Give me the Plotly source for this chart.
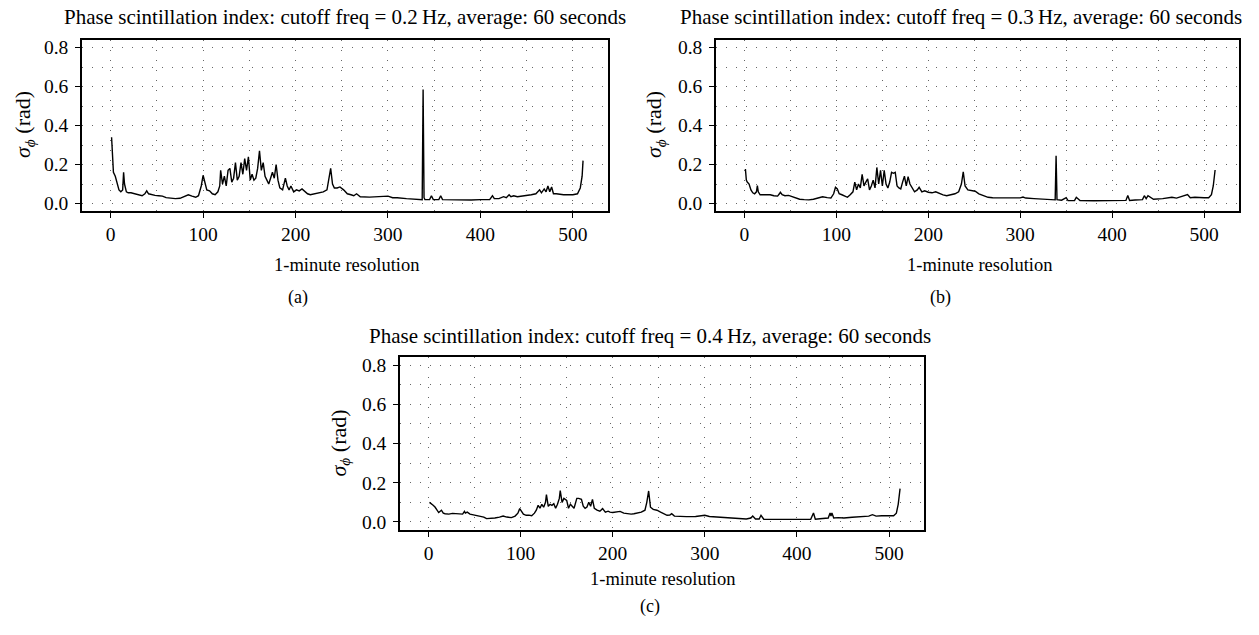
import plotly.graph_objects as go

# ---------------- data ----------------
MIN_A = [1, 2, 3, 5, 7, 9, 11, 13, 14, 15,
         17, 19, 22, 26, 30, 34, 37, 39, 41, 44,
         48, 52, 56, 60, 65, 70, 75, 80, 84, 88,
         92, 95, 98, 100, 102, 104, 107, 110, 113, 116,
         118, 119, 121, 123, 125, 127, 129, 131, 133, 135,
         137, 139, 141, 143, 145, 147, 149, 151, 153, 155,
         157, 159, 161, 163, 165, 167, 169, 171, 173, 175,
         177, 179, 181, 183, 186, 189, 191, 193, 195, 198,
         201, 204, 207, 210, 213, 216, 220, 225, 230, 234,
         236, 238, 240, 242, 245, 248, 252, 256, 260, 263,
         266, 270, 280, 290, 300, 305, 310, 320, 330, 336,
         337, 338, 339, 340, 345, 347, 349, 355, 357, 359,
         370, 390, 400, 410, 413, 415, 420, 423, 425, 428,
         431, 433, 436, 440, 450, 455, 460, 464, 466, 469,
         471, 473, 475, 477, 479, 482, 490, 500, 505, 508,
         510, 511]
SIGMA_A = [0.34, 0.25, 0.16, 0.14, 0.10, 0.07, 0.06, 0.07, 0.16, 0.10,
           0.06, 0.055, 0.055, 0.05, 0.045, 0.04, 0.05, 0.065, 0.05, 0.045,
           0.042, 0.04, 0.038, 0.03, 0.028, 0.025, 0.027, 0.035, 0.045, 0.038,
           0.032, 0.04, 0.09, 0.145, 0.10, 0.07, 0.065, 0.05, 0.045, 0.06,
           0.09, 0.17, 0.10, 0.14, 0.09, 0.17, 0.18, 0.11, 0.13, 0.21,
           0.12, 0.14, 0.21, 0.15, 0.23, 0.17, 0.24, 0.12, 0.15, 0.12,
           0.13, 0.18, 0.27, 0.17, 0.21, 0.14, 0.12, 0.10, 0.13, 0.16,
           0.13, 0.20, 0.12, 0.08, 0.07, 0.13, 0.09, 0.07, 0.09, 0.06,
           0.07, 0.065, 0.075, 0.06, 0.05, 0.045, 0.05, 0.055, 0.06, 0.07,
           0.12, 0.18, 0.10, 0.08, 0.08, 0.085, 0.07, 0.05, 0.045, 0.04,
           0.05, 0.035, 0.033, 0.035, 0.038, 0.03, 0.03, 0.025, 0.022, 0.02,
           0.02, 0.585, 0.03, 0.02, 0.02, 0.04, 0.02, 0.02, 0.04, 0.02,
           0.018, 0.018, 0.02, 0.02, 0.04, 0.025, 0.025, 0.03, 0.035, 0.03,
           0.045, 0.035, 0.04, 0.035, 0.04, 0.045, 0.05, 0.07, 0.055, 0.075,
           0.06, 0.09, 0.06, 0.085, 0.05, 0.05, 0.045, 0.045, 0.05, 0.08,
           0.14, 0.22]

MIN_B = [1, 2, 3, 5, 7, 9, 11, 13, 14, 15,
         17, 20, 24, 28, 32, 36, 38, 39, 41, 44,
         48, 52, 56, 60, 65, 70, 75, 80, 85, 90,
         94, 97, 99, 101, 103, 106, 109, 112, 115, 118,
         120, 122, 124, 126, 128, 130, 132, 134, 136, 138,
         140, 142, 144, 146, 148, 150, 152, 154, 156, 158,
         160, 162, 164, 166, 168, 170, 172, 174, 176, 178,
         180, 182, 185, 188, 190, 193, 196, 200, 204, 208,
         212, 216, 220, 225, 229, 233, 236, 238, 240, 243,
         247, 251, 255, 260, 265, 270, 280, 290, 300, 303,
         306, 315, 325, 335, 338, 339, 340, 345, 350, 352,
         355, 359, 361, 365, 380, 400, 410, 415, 417, 419,
         425, 433, 435, 437, 439, 445, 455, 465, 470, 475,
         480, 482, 485, 490, 500, 505, 508, 510, 512]
SIGMA_B = [0.177, 0.12, 0.11, 0.10, 0.07, 0.055, 0.05, 0.06, 0.092, 0.06,
           0.045, 0.045, 0.042, 0.045, 0.04, 0.038, 0.05, 0.058, 0.045, 0.04,
           0.042, 0.035, 0.03, 0.022, 0.02, 0.019, 0.022, 0.03, 0.035, 0.03,
           0.028, 0.05, 0.083, 0.075, 0.05, 0.045, 0.04, 0.032, 0.045, 0.06,
           0.11, 0.07, 0.10, 0.08, 0.15, 0.09, 0.11, 0.126, 0.07, 0.09,
           0.12, 0.08, 0.185, 0.10, 0.17, 0.09, 0.17, 0.10, 0.08, 0.11,
           0.16, 0.155, 0.16, 0.09, 0.08, 0.075, 0.11, 0.14, 0.09, 0.138,
           0.10, 0.083, 0.06, 0.07, 0.083, 0.06, 0.065, 0.058, 0.055, 0.06,
           0.05, 0.044, 0.04, 0.045, 0.05, 0.06, 0.10, 0.163, 0.09, 0.07,
           0.065, 0.063, 0.05, 0.04, 0.032, 0.03, 0.029, 0.028, 0.029, 0.033,
           0.028, 0.025, 0.022, 0.019, 0.019, 0.245, 0.02, 0.017, 0.03, 0.015,
           0.015, 0.015, 0.032, 0.015, 0.014, 0.014, 0.015, 0.016, 0.041, 0.016,
           0.018, 0.02, 0.04, 0.025, 0.04, 0.022, 0.025, 0.032, 0.028, 0.035,
           0.04, 0.046, 0.03, 0.032, 0.03, 0.03, 0.045, 0.09, 0.172]

MIN_C = [1, 3, 5, 7, 9, 11, 14, 16, 18, 22,
         26, 30, 34, 37, 39, 40, 42, 45, 50, 55,
         60, 63, 67, 72, 77, 81, 85, 90, 94, 97,
         99, 101, 103, 106, 109, 112, 115, 117, 119, 121,
         123, 125, 127, 128, 130, 132, 134, 136, 138, 140,
         142, 143, 145, 147, 150, 152, 154, 156, 158, 161,
         163, 166, 168, 170, 172, 174, 176, 178, 180, 183,
         186, 189, 192, 195, 197, 200, 204, 208, 212, 216,
         220, 223, 227, 231, 235, 237, 239, 241, 244, 248,
         252, 256, 259, 262, 264, 267, 272, 280, 290, 300,
         305, 315, 325, 335, 345, 350, 352, 355, 359, 361,
         364, 375, 390, 405, 415, 418, 420, 425, 434, 436,
         437, 438, 440, 445, 451, 460, 470, 478, 482, 486,
         492, 500, 505, 508, 510, 512]
SIGMA_C = [0.10, 0.09, 0.085, 0.076, 0.06, 0.048, 0.06, 0.045, 0.042, 0.04,
           0.044, 0.042, 0.038, 0.04, 0.054, 0.045, 0.05, 0.04, 0.035, 0.03,
           0.025, 0.017, 0.018, 0.02, 0.025, 0.03, 0.025, 0.022, 0.03, 0.045,
           0.068, 0.05, 0.04, 0.034, 0.035, 0.032, 0.045, 0.06, 0.085, 0.07,
           0.09, 0.075, 0.10, 0.139, 0.08, 0.09, 0.085, 0.093, 0.07, 0.09,
           0.12, 0.16, 0.10, 0.12, 0.11, 0.07, 0.09, 0.08, 0.07, 0.12,
           0.12, 0.115, 0.08, 0.07, 0.076, 0.10, 0.08, 0.115, 0.07, 0.06,
           0.055, 0.068, 0.05, 0.055, 0.05, 0.048, 0.05, 0.054, 0.045, 0.042,
           0.04, 0.042, 0.045, 0.05, 0.06, 0.10, 0.158, 0.075, 0.064, 0.06,
           0.05, 0.04, 0.034, 0.035, 0.042, 0.03, 0.028, 0.027, 0.028, 0.034,
           0.028, 0.025, 0.022, 0.018, 0.015, 0.02, 0.03, 0.015, 0.015, 0.034,
           0.014, 0.013, 0.012, 0.013, 0.014, 0.046, 0.014, 0.016, 0.02, 0.046,
           0.03, 0.046, 0.02, 0.022, 0.02, 0.024, 0.028, 0.03, 0.037, 0.03,
           0.032, 0.03, 0.032, 0.045, 0.09, 0.17]

CUTOFFS = ["0.2", "0.3", "0.4"]
PANEL_LABELS = ["(a)", "(b)", "(c)"]
X_TITLE = "1-minute resolution"
Y_TITLE = "<i>σ</i><sub><i>ϕ</i></sub> (rad)"
X_TICKS = [0, 100, 200, 300, 400, 500]
Y_TICKS = [0.0, 0.2, 0.4, 0.6, 0.8]

assert len(MIN_A) == len(SIGMA_A)
assert len(MIN_B) == len(SIGMA_B)
assert len(MIN_C) == len(SIGMA_C)

# ---------------- layout geometry (pixels) ----------------
W, H = 1259, 635
FONT = "Liberation Serif"

# plot boxes: left, top, right, bottom
boxes = [(82, 38, 608, 211), (716, 38, 1239, 211), (400, 358, 924, 532)]
title_pos = [(345, 15), (961, 15), (650, 337)]
xtitle_pos = [(346, 265), (979, 265), (662, 582)]
ytitle_pos = [(24, 124), (655, 124), (340, 445)]
label_pos = [(298, 298), (940, 298), (650, 609)]


def px(x):
    return x / W


def py(y):
    return 1 - y / H


series = [(MIN_A, SIGMA_A), (MIN_B, SIGMA_B), (MIN_C, SIGMA_C)]

fig = go.Figure()
layout = dict(
    width=W, height=H, margin=dict(l=0, r=0, t=0, b=0),
    paper_bgcolor="white", plot_bgcolor="white", showlegend=False,
    font=dict(family=FONT, color="black", size=19),
)

annotations = []
gridstyle = dict(showgrid=True, gridcolor="#666666", gridwidth=1, griddash="1px,9px")

for i, ((xs, ys), box) in enumerate(zip(series, boxes)):
    n = "" if i == 0 else str(i + 1)
    xa, ya = "x" + n, "y" + n
    fig.add_trace(go.Scatter(x=xs, y=ys, mode="lines", xaxis=xa, yaxis=ya,
                             line=dict(color="black", width=1.4)))
    l, t, r, b = box
    layout["xaxis" + n] = dict(
        domain=[px(l), px(r)], anchor=ya, range=[-31, 538],
        tickvals=X_TICKS, ticks="outside", ticklen=5, tickcolor="black",
        showline=True, linecolor="black", linewidth=1.5, mirror=True,
        zeroline=False, tickfont=dict(size=19.5, family=FONT),
        ticklabelstandoff=0,
        minor=dict(dtick=50, tick0=0, ticks="", **gridstyle),
        **gridstyle,
    )
    layout["yaxis" + n] = dict(
        domain=[py(b), py(t)], anchor=xa, range=[-0.04, 0.84],
        tickvals=Y_TICKS, ticktext=["%.1f" % v for v in Y_TICKS],
        ticks="outside", ticklen=5, tickcolor="black",
        showline=True, linecolor="black", linewidth=1.5, mirror=True,
        zeroline=False, tickfont=dict(size=19.5, family=FONT),
        ticklabelstandoff=3,
        minor=dict(dtick=0.1, tick0=0, ticks="", **gridstyle),
        **gridstyle,
    )
    tx, ty = title_pos[i]
    annotations.append(dict(
        text="Phase scintillation index: cutoff freq = %s\u2009Hz, average: 60 seconds" % CUTOFFS[i],
        x=px(tx), y=py(ty), xref="paper", yref="paper", showarrow=False,
        xanchor="center", yanchor="middle", font=dict(size=21, family=FONT)))
    xx, xy = xtitle_pos[i]
    annotations.append(dict(text=X_TITLE, x=px(xx), y=py(xy), xref="paper", yref="paper",
                            showarrow=False, xanchor="center", yanchor="middle",
                            font=dict(size=18.5, family=FONT)))
    yx, yy = ytitle_pos[i]
    annotations.append(dict(text=Y_TITLE, x=px(yx), y=py(yy), xref="paper", yref="paper",
                            showarrow=False, xanchor="center", yanchor="middle", textangle=-90,
                            font=dict(size=22, family=FONT)))
    lx, ly = label_pos[i]
    annotations.append(dict(text=PANEL_LABELS[i], x=px(lx), y=py(ly), xref="paper", yref="paper",
                            showarrow=False, xanchor="center", yanchor="middle",
                            font=dict(size=18, family=FONT)))

layout["annotations"] = annotations
fig.update_layout(**layout)
fig.write_html("out.html")
